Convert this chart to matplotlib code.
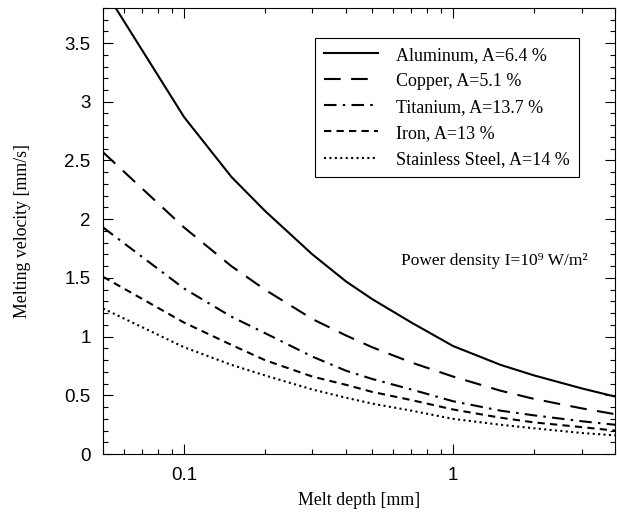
import matplotlib
matplotlib.use("Agg")
import matplotlib.pyplot as plt
from matplotlib.ticker import FixedLocator, MultipleLocator, FormatStrFormatter, NullFormatter, LogLocator

# melt depth [mm]
depth = [0.05, 0.1, 0.15, 0.2, 0.3, 0.4, 0.5, 0.7, 1.0, 1.5, 2.0, 3.0, 4.0]

# melting velocity [mm/s]
aluminum = [3.97, 2.87, 2.36, 2.07, 1.70, 1.47, 1.32, 1.12, 0.92, 0.76, 0.67, 0.56, 0.49]
copper = [2.57, 1.93, 1.60, 1.40, 1.15, 1.01, 0.91, 0.78, 0.66, 0.54, 0.47, 0.39, 0.34]
titanium = [1.93, 1.41, 1.17, 1.03, 0.83, 0.71, 0.64, 0.55, 0.45, 0.37, 0.33, 0.28, 0.25]
iron = [1.51, 1.12, 0.93, 0.80, 0.66, 0.59, 0.53, 0.46, 0.38, 0.31, 0.27, 0.23, 0.20]
stainless = [1.24, 0.91, 0.76, 0.67, 0.55, 0.48, 0.43, 0.37, 0.30, 0.25, 0.22, 0.18, 0.16]

labels = ["Aluminum, A=6.4 %", "Copper, A=5.1 %", "Titanium, A=13.7 %",
          "Iron, A=13 %", "Stainless Steel, A=14 %"]

fig = plt.figure(figsize=(6.17, 5.19), dpi=100)
ax = fig.add_axes([0.167, 0.125, 0.83, 0.86])

lw = 1.5
ax.plot(depth, aluminum, color="black", lw=lw, linestyle="-", label=labels[0])
ax.plot(depth, copper, color="black", lw=lw, linestyle=(0, (8, 5)), label=labels[1])
ax.plot(depth, titanium, color="black", lw=lw, linestyle=(0, (6, 3, 1.2, 3)), label=labels[2])
ax.plot(depth, iron, color="black", lw=lw, linestyle=(0, (3.5, 2.5)), label=labels[3])
ax.plot(depth, stainless, color="black", lw=lw, linestyle=(0, (1, 1.6)), label=labels[4])

ax.set_xscale("log")
ax.set_xlim(0.05, 4.0)
ax.set_ylim(0, 3.8)

ax.xaxis.set_major_locator(FixedLocator([0.1, 1]))
ax.xaxis.set_major_formatter(FormatStrFormatter("%g"))
ax.xaxis.set_minor_locator(LogLocator(base=10, subs=range(2, 10)))
ax.xaxis.set_minor_formatter(NullFormatter())
ax.yaxis.set_major_locator(MultipleLocator(0.5))
ax.yaxis.set_minor_locator(MultipleLocator(0.1))
ax.yaxis.set_major_formatter(FormatStrFormatter("%g"))

ax.tick_params(which="both", direction="in", top=True, right=True, width=0.8)
ax.tick_params(which="major", length=7, labelsize=13.5, pad=9)
ax.tick_params(which="minor", length=3.5)
for lab in ax.get_xticklabels() + ax.get_yticklabels():
    lab.set_family("Liberation Sans")

ax.set_xlabel("Melt depth [mm]", family="Liberation Serif", fontsize=12.8, labelpad=6)
ax.set_ylabel("Melting velocity [mm/s]", family="Liberation Serif", fontsize=12.8, labelpad=24)

leg = ax.legend(loc="upper left", bbox_to_anchor=(0.414, 0.933), borderaxespad=0,
                fancybox=False, edgecolor="black", framealpha=1, handlelength=3.0,
                handletextpad=1.0, labelspacing=0.5, borderpad=0.5,
                prop={"family": "Liberation Serif", "size": 13})
leg.get_frame().set_linewidth(0.8)

ax.text(0.582, 0.424, "Power density I=10\u2079 W/m\u00b2", transform=ax.transAxes,
        family=["Liberation Serif", "DejaVu Serif"], fontsize=12.5, va="baseline")

fig.savefig("out.png", dpi=100)
